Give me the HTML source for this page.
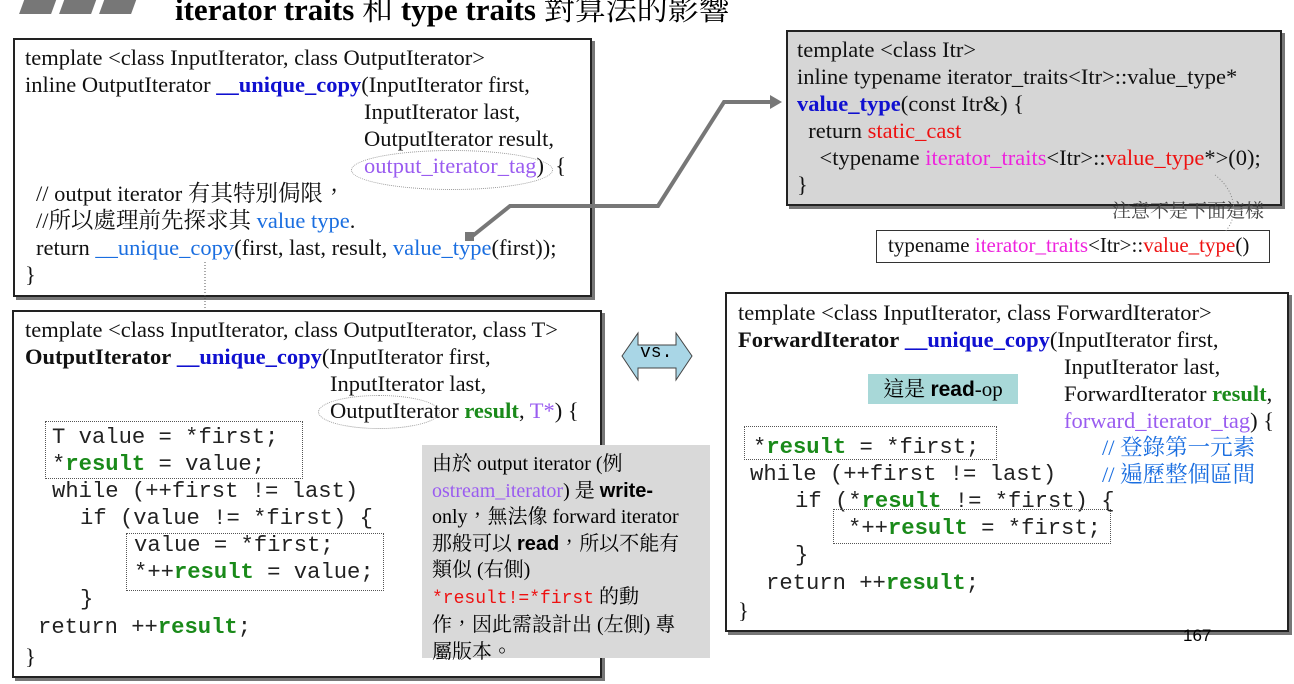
<!DOCTYPE html>
<html><head><meta charset="utf-8"><style>
body{margin:0;width:1294px;height:684px;background:#fff;position:relative;overflow:hidden;font-family:"Liberation Serif","Noto Serif CJK TC",serif;}
.a{position:absolute;white-space:pre;}
.box{position:absolute;border:2px solid #222;box-shadow:3px 3px 0 #777;background:#fff;}
.t{position:absolute;white-space:pre;font-size:22.5px;line-height:27px;color:#111;}
.m{position:absolute;white-space:pre;font-family:"Liberation Mono","DejaVu Sans Mono",monospace;font-size:22.2px;line-height:27px;color:#222;}
.bl{color:#1010d0;font-weight:bold}
.lb{color:#1a6ee0}
.pu{color:#9a5cf0}
.gr{color:#1a8a1a;font-weight:bold}
.rd{color:#ee1111}
.mg{color:#ee22dd}
.dot{position:absolute;border:1px dotted #555;}
</style></head><body>
<div class="a" style="left:22px;top:-2px;width:32px;height:16px;background:#777;transform:skewX(-20deg)"></div>
<div class="a" style="left:62px;top:-2px;width:32px;height:16px;background:#777;transform:skewX(-20deg)"></div>
<div class="a" style="left:102px;top:-2px;width:32px;height:16px;background:#777;transform:skewX(-20deg)"></div>
<div class="a" style="left:175px;top:-16px;font-size:31px;font-weight:bold;">iterator traits <span style="font-weight:normal">和</span> type traits <span style="font-weight:normal">對算法的影響</span></div>

<div class="box" style="left:13px;top:38px;width:575px;height:255px;"></div>
<div class="t" style="left:25px;top:44px;">template &lt;class InputIterator, class OutputIterator&gt;</div>
<div class="t" style="left:25px;top:71px;">inline OutputIterator <span class="bl">__unique_copy</span>(InputIterator first,</div>
<div class="t" style="left:364px;top:98px;">InputIterator last,</div>
<div class="t" style="left:364px;top:125px;">OutputIterator result,</div>
<div class="t" style="left:364px;top:152px;"><span class="pu">output_iterator_tag</span>)  {</div>
<div class="t" style="left:36px;top:180px;">// output iterator 有其特別侷限，</div>
<div class="t" style="left:36px;top:207px;">//所以處理前先探求其 <span class="lb">value type</span>.</div>
<div class="t" style="left:36px;top:234px;">return <span class="lb">__unique_copy</span>(first, last, result, <span class="lb">value_type</span>(first));</div>
<div class="t" style="left:25px;top:261px;">}</div>
<div class="a" style="left:351px;top:150px;width:200px;height:38px;border:1px dotted #999;border-radius:50%;"></div>

<div class="box" style="left:786px;top:30px;width:492px;height:172px;background:#d6d6d6;"></div>
<div class="t" style="left:797px;top:36px;">template &lt;class Itr&gt;
inline typename iterator_traits&lt;Itr&gt;::value_type*
<span class="bl">value_type</span>(const Itr&amp;) {
  return <span class="rd">static_cast</span>
    &lt;typename <span class="mg">iterator_traits</span>&lt;Itr&gt;::<span class="rd">value_type</span>*&gt;(0);
}</div>
<div class="a" style="left:1112px;top:196px;font-size:19px;color:#444;">注意不是下面這樣</div>
<div class="a" style="left:876px;top:230px;width:392px;height:31px;border:1px solid #333;"></div>
<div class="t" style="left:888px;top:232px;font-size:21px;">typename <span class="mg">iterator_traits</span>&lt;Itr&gt;::<span class="rd">value_type</span>()</div>

<svg class="a" style="left:0;top:0" width="1294" height="684">
<polyline points="470,238 510,206 658,206 724,102 772,102" fill="none" stroke="#777" stroke-width="4"/>
<polygon points="770,95 782,102 770,109" fill="#777"/>
<rect x="465" y="232" width="9" height="9" fill="#777"/>
<line x1="205" y1="262" x2="205" y2="340" stroke="#555" stroke-dasharray="1,2"/>
<polygon points="200,336 210,336 205,346" fill="#222"/>
<polygon points="622,356 638,333 638,345 676,345 676,333 692,356 676,380 676,368 638,368 638,380" fill="#a9d6e6" stroke="#444"/>
<path d="M1215,175 C1235,190 1240,215 1225,232" fill="none" stroke="#888" stroke-dasharray="1,2"/>
</svg>
<div class="a" style="left:640px;top:343px;font-family:'Liberation Mono',monospace;font-size:18px;">vs.</div>

<div class="box" style="left:12px;top:310px;width:586px;height:364px;"></div>
<div class="t" style="left:25px;top:316px;">template &lt;class InputIterator, class OutputIterator, class T&gt;</div>
<div class="t" style="left:25px;top:343px;"><b>OutputIterator</b> <span class="bl">__unique_copy</span>(InputIterator first,</div>
<div class="t" style="left:330px;top:370px;">InputIterator last,</div>
<div class="t" style="left:330px;top:397px;">OutputIterator <span class="gr">result</span>, <span class="pu">T*</span>) {</div>
<div class="a" style="left:318px;top:395px;width:120px;height:32px;border:1px dotted #999;border-radius:50%;"></div>
<div class="m" style="left:52px;top:424px;">T value = *first;</div>
<div class="m" style="left:52px;top:451px;">*<span class="gr">result</span> = value;</div>
<div class="m" style="left:52px;top:478px;">while (++first != last)</div>
<div class="m" style="left:80px;top:505px;">if (value != *first) {</div>
<div class="m" style="left:134px;top:532px;">value = *first;</div>
<div class="m" style="left:134px;top:559px;">*++<span class="gr">result</span> = value;</div>
<div class="m" style="left:80px;top:586px;">}</div>
<div class="m" style="left:38px;top:614px;">return ++<span class="gr">result</span>;</div>
<div class="t" style="left:25px;top:643px;">}</div>
<div class="dot" style="left:45px;top:421px;width:256px;height:56px;"></div>
<div class="dot" style="left:126px;top:533px;width:256px;height:56px;"></div>

<div class="a" style="left:422px;top:445px;width:288px;height:213px;background:#d9d9d9;"></div>
<div class="a" style="left:432px;top:451px;font-size:20px;line-height:26.5px;white-space:normal;width:275px;">由於 output iterator (例<br><span class="pu">ostream_iterator</span>) 是 <b style="font-family:'Liberation Sans',sans-serif">write-</b><br>only，無法像 forward iterator<br>那般可以 <b style="font-family:'Liberation Sans',sans-serif">read</b>，所以不能有<br>類似 (右側)<br><span class="rd" style="font-family:'Liberation Mono',monospace;font-size:18px">*result!=*first</span> 的動<br>作，因此需設計出 (左側) 專<br>屬版本。</div>

<div class="box" style="left:725px;top:292px;width:560px;height:336px;"></div>
<div class="t" style="left:738px;top:299px;">template &lt;class InputIterator, class ForwardIterator&gt;</div>
<div class="t" style="left:738px;top:326px;"><b>ForwardIterator</b> <span class="bl">__unique_copy</span>(InputIterator first,</div>
<div class="t" style="left:1064px;top:353px;">InputIterator last,</div>
<div class="t" style="left:1064px;top:380px;">ForwardIterator <span class="gr">result</span>,</div>
<div class="t" style="left:1064px;top:407px;"><span class="pu">forward_iterator_tag</span>) {</div>
<div class="t" style="left:1102px;top:434px;"><span class="lb">// 登錄第一元素</span></div>
<div class="t" style="left:1102px;top:461px;"><span class="lb">// 遍歷整個區間</span></div>
<div class="a" style="left:868px;top:374px;width:150px;height:30px;background:#a8d8d8;font-size:21px;line-height:30px;text-align:center;">這是 <b style="font-family:'Liberation Sans',sans-serif">read</b>-op</div>
<div class="m" style="left:753px;top:434px;">*<span class="gr">result</span> = *first;</div>
<div class="m" style="left:750px;top:461px;">while (++first != last)</div>
<div class="m" style="left:795px;top:488px;">if (*<span class="gr">result</span> != *first) {</div>
<div class="m" style="left:848px;top:515px;">*++<span class="gr">result</span> = *first;</div>
<div class="m" style="left:795px;top:542px;">}</div>
<div class="m" style="left:766px;top:570px;">return ++<span class="gr">result</span>;</div>
<div class="t" style="left:738px;top:597px;">}</div>
<div class="dot" style="left:744px;top:426px;width:251px;height:32px;"></div>
<div class="dot" style="left:833px;top:509px;width:276px;height:33px;"></div>
<div class="a" style="left:1183px;top:626px;font-family:'Liberation Sans',sans-serif;font-size:17px;">167</div>
</body></html>
